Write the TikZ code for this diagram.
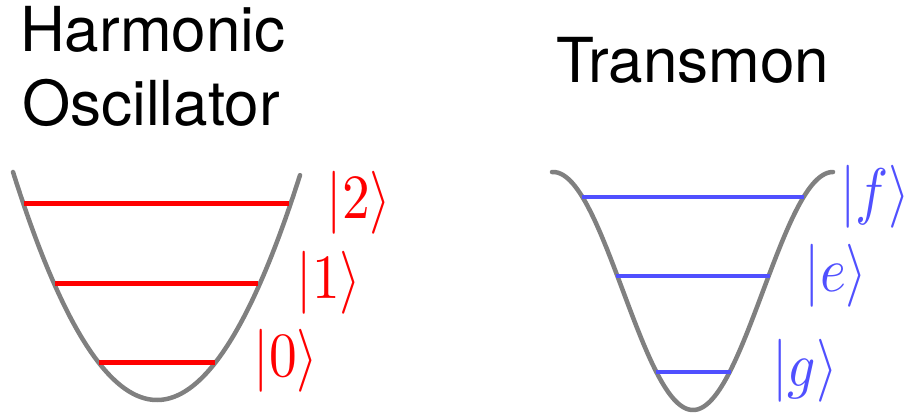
\documentclass[tikz,border=0pt]{standalone}
\usepackage{fontspec}
\usepackage{graphicx}
\newfontfamily\helv{TeX Gyre Heros}
\definecolor{potgray}{RGB}{128,128,128}
\definecolor{lvlred}{RGB}{255,0,0}
\definecolor{lvlblue}{RGB}{80,80,255}
\tikzset{
  potential/.style={draw=potgray, line width=4.5pt, line cap=round},
  holevel/.style={draw=lvlred, line width=5pt},
  trlevel/.style={draw=lvlblue, line width=4.5pt},
  title/.style={anchor=base west, inner sep=0pt, font=\helv\fontsize{62}{70}\selectfont},
  ketlbl/.style={anchor=center, inner sep=0pt},
}
\newcommand{\myket}[1]{\scalebox{5.54}[6.3]{$|#1\rangle$}}
\begin{document}
\begin{tikzpicture}[x=1pt,y=-1pt]
\useasboundingbox (0,0) rectangle (909,417);
% titles
\node[title] (t1) at (20,52) {Harmonic};
\node[title] (t2) at (22,125) {Oscillator};
\node[title] (t3) at (556,83) {Transmon};
% harmonic potential
\draw[potential] plot[domain=-144:143, samples=120] ({157+\x},{400-228*(\x/144)*(\x/144)});
\coordinate (h2l) at (24,203); \coordinate (h2r) at (289,203);
\coordinate (h1l) at (55,283); \coordinate (h1r) at (258,283);
\coordinate (h0l) at (99,362); \coordinate (h0r) at (215,362);
\draw[holevel] (h2l) -- (h2r);
\draw[holevel] (h1l) -- (h1r);
\draw[holevel] (h0l) -- (h0r);
\node[ketlbl, text=lvlred] (k2) at (359,203) {\myket{2}};
\node[ketlbl, text=lvlred] (k1) at (329,283) {\myket{1}};
\node[ketlbl, text=lvlred] (k0) at (286,361) {\myket{0}};
% transmon potential
\draw[potential] plot[domain=-141:140, samples=160] ({693+\x},{291+119*cos(\x/140*180)});
\coordinate (tfl) at (582,197); \coordinate (tfr) at (804,197);
\coordinate (tel) at (616,276); \coordinate (ter) at (770,276);
\coordinate (tgl) at (656,372); \coordinate (tgr) at (731,372);
\draw[trlevel] (tfl) -- (tfr);
\draw[trlevel] (tel) -- (ter);
\draw[trlevel] (tgl) -- (tgr);
\node[ketlbl, text=lvlblue] (kf) at (875,197) {\myket{f}};
\node[ketlbl, text=lvlblue] (ke) at (836,276) {\myket{e}};
\node[ketlbl, text=lvlblue] (kg) at (805,371) {\myket{g}};
\end{tikzpicture}
\end{document}
